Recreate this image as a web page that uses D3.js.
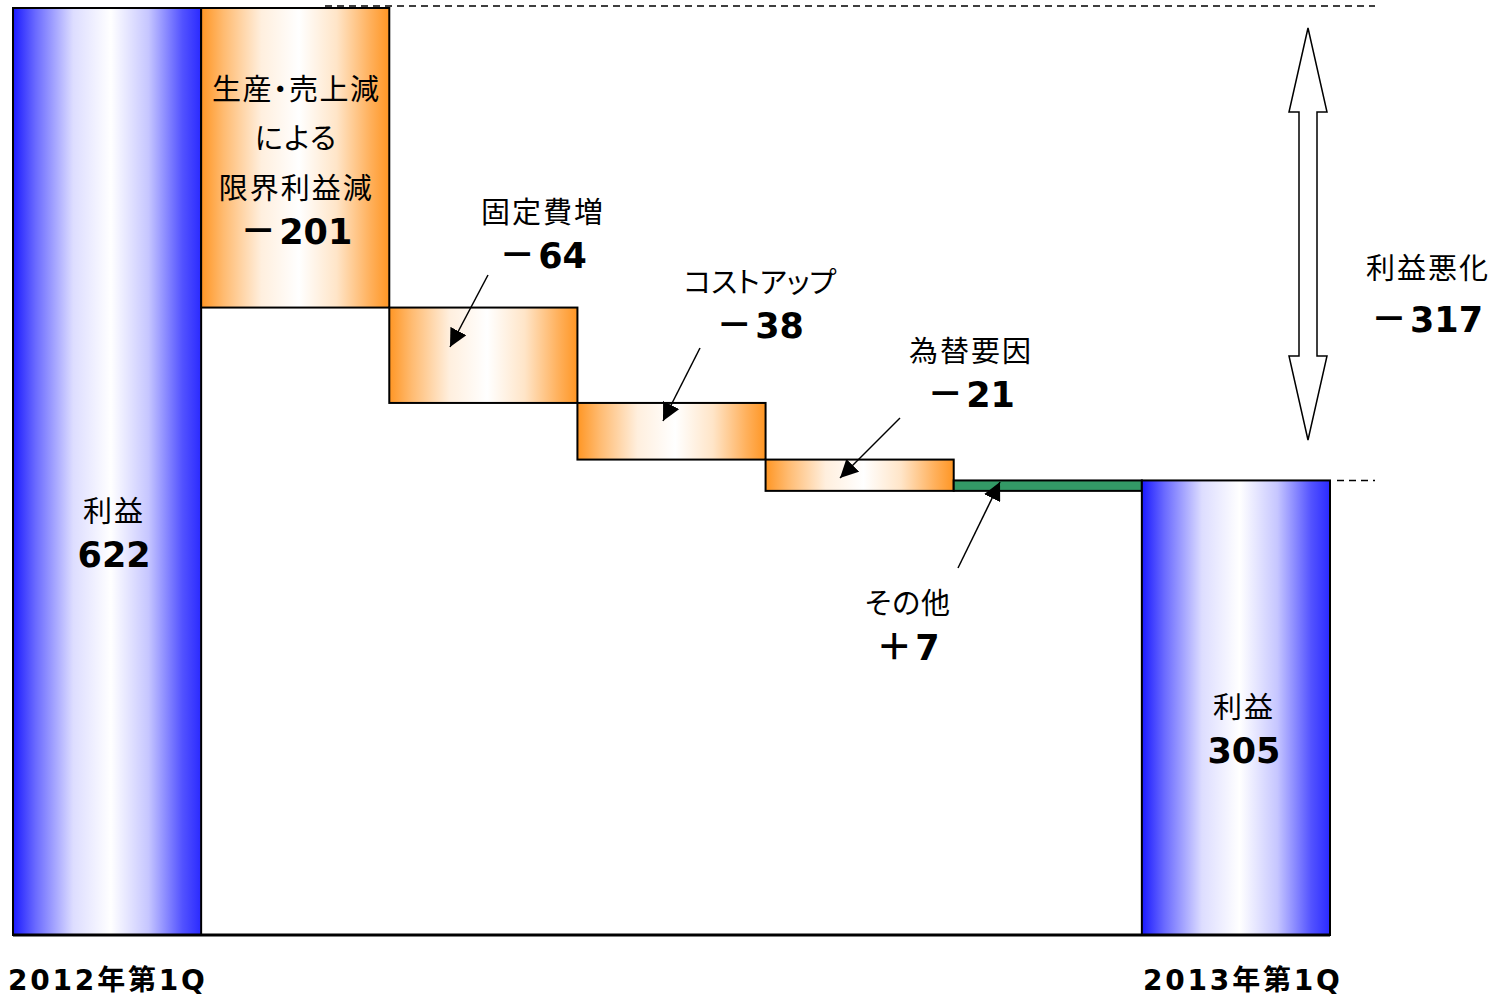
<!DOCTYPE html>
<html lang="ja">
<head>
<meta charset="utf-8">
<title>利益増減要因</title>
<script src="https://cdn.jsdelivr.net/npm/d3@7"></script>
<style>
  html,body{margin:0;background:#fff;overflow:hidden;}
  svg{display:block;}
  text{font-family:"Noto Sans CJK JP","Noto Sans",sans-serif;fill:#000;font-feature-settings:"palt" 1;}
  .num{font-family:"DejaVu Sans","Noto Sans CJK JP",sans-serif;font-weight:bold;}
  .sign{font-family:"Noto Sans CJK JP",sans-serif;font-weight:bold;}
  .axis{font-family:"DejaVu Sans","Noto Sans CJK JP",sans-serif;font-weight:bold;}
</style>
</head>
<body>
<div id="chart"></div>
<script>
// data
const categories = ["2012年第1Q", "生産・売上減", "固定費増", "コストアップ", "為替要因", "その他", "2013年第1Q"];
const values     = [622, -201, -64, -38, -21, 7, 305];
const kinds      = ["total", "neg", "neg", "neg", "neg", "pos", "total"];
const valueLabels = ["622", "－201", "－64", "－38", "－21", "＋7", "305"];
const diffLabel = ["利益悪化", "－317"];

const W = 1497, H = 997;
const svg = d3.select("#chart").append("svg").attr("width", W).attr("height", H);

const x = d3.scaleBand().domain(categories).range([13, 1330]).padding(0);
const y = d3.scaleLinear().domain([0, 622]).range([935, 8]);

// running totals
let run = 0;
const bars = categories.map((c, i) => {
  let y0, y1;
  if (kinds[i] === "total") { y0 = 0; y1 = values[i]; run = values[i]; }
  else { y0 = run; y1 = run + values[i]; run = y1; }
  return {cat: c, kind: kinds[i], lo: Math.min(y0, y1), hi: Math.max(y0, y1), i};
});

const defs = svg.append("defs");
function grad(id, edge, mid) {
  const g = defs.append("linearGradient").attr("id", id).attr("x1", 0).attr("x2", 1).attr("y1", 0).attr("y2", 0);
  [[0, edge], [0.12, d3.interpolateRgb(edge, "#fff")(0.35)], [0.32, d3.interpolateRgb(edge, "#fff")(0.85)],
   [0.52, "#fff"], [0.72, d3.interpolateRgb(edge, "#fff")(0.75)], [0.9, d3.interpolateRgb(edge, "#fff")(0.25)], [1, mid]]
    .forEach(([o, c]) => g.append("stop").attr("offset", o).attr("stop-color", c));
}
grad("gBlue", "#1a1aff", "#2a2aff");
grad("gOrange", "#ff9624", "#ff9624");

const fills = {total: "url(#gBlue)", neg: "url(#gOrange)", pos: "#339966"};

// dashed reference lines
svg.append("line").attr("x1", 325).attr("x2", 1375).attr("y1", y(622) - 2).attr("y2", y(622) - 2)
  .attr("stroke", "#000").attr("stroke-width", 1.5).attr("stroke-dasharray", "7,5");
svg.append("line").attr("x1", 1337).attr("x2", 1375).attr("y1", y(305)).attr("y2", y(305))
  .attr("stroke", "#000").attr("stroke-width", 1.5).attr("stroke-dasharray", "7,5");

svg.append("g").selectAll("rect").data(bars).join("rect")
  .attr("x", d => x(d.cat))
  .attr("y", d => y(d.hi))
  .attr("width", x.bandwidth())
  .attr("height", d => y(d.lo) - y(d.hi))
  .attr("fill", d => fills[d.kind])
  .attr("stroke", "#000")
  .attr("stroke-width", 2);

// baseline
svg.append("line").attr("x1", x(categories[0])).attr("x2", x(categories[6]) + x.bandwidth())
  .attr("y1", y(0)).attr("y2", y(0)).attr("stroke", "#000").attr("stroke-width", 3);

// arrows
defs.append("marker").attr("id", "ah").attr("viewBox", "0 0 10 10").attr("refX", 10).attr("refY", 5)
  .attr("markerUnits", "userSpaceOnUse").attr("orient", "auto")
  .attr("markerWidth", 18).attr("markerHeight", 18)
  .append("path").attr("d", "M0,0 L10,5 L0,10 z").attr("fill", "#000");

const arrows = [
  [488, 275, 450, 347],
  [700, 348, 663, 421],
  [900, 418, 840, 478],
  [958, 568, 1000, 482]
];
svg.append("g").selectAll("line").data(arrows).join("line")
  .attr("x1", d => d[0]).attr("y1", d => d[1]).attr("x2", d => d[2]).attr("y2", d => d[3])
  .attr("stroke", "#000").attr("stroke-width", 1.5).attr("marker-end", "url(#ah)");

// double arrow between the two totals
const ax = 1308, aTop = 28, aBot = 440;
svg.append("path")
  .attr("d", `M${ax},${aTop} L${ax + 19},${aTop + 84} L${ax + 9},${aTop + 84} L${ax + 9},${aBot - 84} L${ax + 19},${aBot - 84}
              L${ax},${aBot} L${ax - 19},${aBot - 84} L${ax - 9},${aBot - 84} L${ax - 9},${aTop + 84} L${ax - 19},${aTop + 84} Z`)
  .attr("fill", "#fff").attr("stroke", "#000").attr("stroke-width", 1.5);

// text labels
function label(cx, cy, txt, size, spacing) {
  svg.append("text").attr("x", cx).attr("y", cy).attr("text-anchor", "middle")
    .attr("font-size", size).attr("letter-spacing", spacing || 0).text(txt);
}
function numLabel(cx, cy, txt) {
  const t = svg.append("text").attr("x", cx).attr("y", cy).attr("text-anchor", "middle").attr("font-size", 35);
  const sign = /^[－＋]/.test(txt) ? txt[0] : "";
  if (sign) t.append("tspan").attr("class", "sign").attr("font-size", 36).text(sign);
  t.append("tspan").attr("class", "num").attr("dx", sign ? 3 : 0).text(sign ? txt.slice(1) : txt);
}
const cx = i => x(categories[i]) + x.bandwidth() / 2;

label(cx(0) + 7, 522, "利益", 29, 2);
numLabel(cx(0) + 7, 567, valueLabels[0]);

label(cx(1) + 1, 100, "生産・売上減", 29, 1.5);
label(cx(1) + 1, 149, "による", 29, 1.5);
label(cx(1) + 1, 199, "限界利益減", 29, 2);
numLabel(cx(1) + 1, 244, valueLabels[1]);

label(543, 223, categories[2], 29, 2);
numLabel(543, 268, valueLabels[2]);

label(760, 293, categories[3], 29, 0);
numLabel(760, 338, valueLabels[3]);

label(971, 362, categories[4], 29, 2);
numLabel(971, 407, valueLabels[4]);

label(908, 614, categories[5], 29, 1);
numLabel(908, 660, valueLabels[5]);

label(cx(6) + 8, 718, "利益", 29, 2);
numLabel(cx(6) + 8, 763, valueLabels[6]);

label(1428, 279, diffLabel[0], 29, 2);
numLabel(1427, 332, diffLabel[1]);

// category axis labels
svg.append("text").attr("class", "axis").attr("x", 8).attr("y", 990).attr("font-size", 28)
  .attr("letter-spacing", 2.8).text(categories[0]);
svg.append("text").attr("class", "axis").attr("x", 1143).attr("y", 990).attr("font-size", 28)
  .attr("letter-spacing", 2.8).text(categories[6]);
</script>
</body>
</html>
